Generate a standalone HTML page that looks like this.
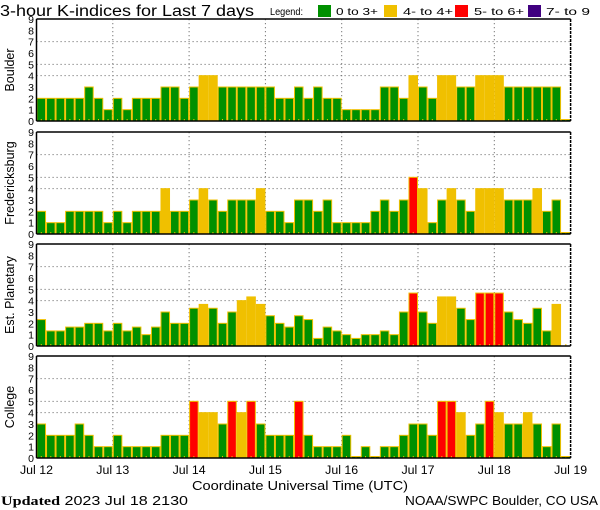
<!DOCTYPE html>
<html><head><meta charset="utf-8"><style>
body{margin:0;background:#fff;}
svg{display:block;font-family:"Liberation Sans",sans-serif;}
</style></head><body>
<svg id="c" width="600" height="510" viewBox="0 0 600 510"></svg>
<script>
const stations = ["Boulder","Fredericksburg","Est. Planetary","College"];
const boulder = [2,2,2,2,2,3,2,1,2,1,2,2,2,3,3,2,3,4,4,3,3,3,3,3,3,2,2,3,2,3,2,2,1,1,1,1,3,3,2,4,3,2,4,4,3,3,4,4,4,3,3,3,3,3,3,0];
const fredericksburg = [2,1,1,2,2,2,2,1,2,1,2,2,2,4,2,2,3,4,3,2,3,3,3,4,2,2,1,3,3,2,3,1,1,1,1,2,3,2,3,5,4,1,3,4,3,2,4,4,4,3,3,3,4,2,3,0];
const planetary = [2.33,1.33,1.33,1.67,1.67,2,2,1.33,2,1.33,1.67,1,1.67,3,2,2,3.33,3.67,3.33,2,3,4,4.33,3.67,2.67,2,1.67,2.67,2.33,0.67,1.67,1.33,1,0.67,1,1,1.33,1,3,4.67,3,2,4.33,4.33,3.33,2.33,4.67,4.67,4.67,3,2.33,2,3.33,1.33,3.67,null];
const college = [3,2,2,2,3,2,1,1,2,1,1,1,1,2,2,2,5,4,4,3,5,4,5,3,2,2,2,5,2,1,1,1,2,0,1,0,1,1,2,3,3,2,5,5,4,2,3,5,4,3,3,4,3,1,3,0];
const series = [boulder,fredericksburg,planetary,college];
const dayLabels = ["Jul 12","Jul 13","Jul 14","Jul 15","Jul 16","Jul 17","Jul 18","Jul 19"];
const yTicks = [0,1,2,3,4,5,6,7,8,9];
const gridLevels = [4,5,7];

const NS="http://www.w3.org/2000/svg";
const svg=document.getElementById('c');
const X0=36.5, DAYW=76.3, BARW=DAYW/8, PH=102, UNIT=PH/9;
const panelTops=[19,132,244,356];
function xs(i){return X0+i*BARW;}
function mk(tag,attrs,parent){const e=document.createElementNS(NS,tag);for(const k in attrs)e.setAttribute(k,attrs[k]);(parent||svg).appendChild(e);return e;}
function color(v){if(v>=6.67)return"#400080";if(v>=4.67)return"#ff0000";if(v>=3.67)return"#f0c000";return"#009000";}

let t=mk('text',{x:0,y:16,'font-size':15.5,fill:'#000',textLength:254,lengthAdjust:'spacingAndGlyphs'});t.textContent="3-hour K-indices for Last 7 days";


t=mk('text',{x:270,y:15,'font-size':10.5,textLength:33,lengthAdjust:'spacingAndGlyphs'});t.textContent="Legend:";


const legend=[["#009000","0 to 3+",318,336,42],["#f0c000","4- to 4+",384,403,50],["#ff0000","5- to 6+",455,474,50],["#400080","7- to 9",528,546,44]];
legend.forEach(l=>{
  const g=mk('g',{});
  
  
  mk('rect',{x:l[2],y:5,width:13,height:12,fill:l[0]},g);
  const tt=mk('text',{x:l[3],y:15,'font-size':10.5,textLength:l[4],lengthAdjust:'spacingAndGlyphs'},g);tt.textContent=l[1];
});

series.forEach((data,p)=>{
  const top=panelTops[p], bot=top+PH;
  const g=mk('g',{});
  
  
  gridLevels.forEach(v=>{const y=bot-v*UNIT;mk('line',{x1:X0,x2:X0+7*DAYW,y1:y,y2:y,stroke:'#777','stroke-dasharray':'1.2,2.8','stroke-width':1},g);});
  for(let d=1;d<7;d++){const x=X0+d*DAYW;mk('line',{x1:x,x2:x,y1:top,y2:bot,stroke:'#777','stroke-dasharray':'1.2,2.8','stroke-width':1},g);}
  data.forEach((v,i)=>{
    if(v===null)return;
    const h=Math.max(v*UNIT,1.5);
    const r=mk('rect',{x:xs(i)+0.5,y:bot-h,width:BARW-1,height:h,fill:color(v),stroke:'#f0c000','stroke-width':1},g);
    
    
  });
  data.forEach((v,i)=>{mk('rect',{x:xs(i)+BARW/2-0.5,y:bot-2,width:1,height:2,fill:'#f0c000'},g);});
  mk('line',{x1:X0,x2:X0+7*DAYW,y1:top,y2:top,stroke:'#000','stroke-width':1.5},g);
  mk('line',{x1:X0,x2:X0+7*DAYW,y1:bot,y2:bot,stroke:'#000','stroke-width':1.5},g);
  mk('line',{x1:X0,x2:X0,y1:top,y2:bot,stroke:'#000','stroke-width':1.5},g);
  mk('line',{x1:X0+7*DAYW,x2:X0+7*DAYW,y1:top,y2:bot,stroke:'#000','stroke-width':1.5,'stroke-dasharray':'3,1'},g);
  yTicks.forEach(v=>{const tt=mk('text',{x:34,y:bot-v*UNIT+4,'font-size':10.5,'text-anchor':'end'},g);tt.textContent=v;});
  const yl=mk('text',{x:0,y:0,'font-size':12.5,'text-anchor':'middle',transform:`translate(14,${top+PH/2}) rotate(-90)`},g);
  yl.textContent=stations[p];
  
  
});

dayLabels.forEach((s,d)=>{
  const tt=mk('text',{x:X0+d*DAYW,y:474,'font-size':11.5,'text-anchor':'middle',textLength:33,lengthAdjust:'spacingAndGlyphs'});tt.textContent=s;
  
  
});
t=mk('text',{x:192,y:490,'font-size':13,textLength:216,lengthAdjust:'spacingAndGlyphs'});t.textContent="Coordinate Universal Time (UTC)";


t=mk('text',{x:1,y:505,'font-size':13,textLength:187,lengthAdjust:'spacingAndGlyphs'});
t.innerHTML='<tspan font-family="Liberation Serif, serif" font-weight="bold">Updated</tspan> 2023 Jul 18 2130';


t=mk('text',{x:405,y:505,'font-size':13,textLength:193,lengthAdjust:'spacingAndGlyphs'});t.textContent="NOAA/SWPC Boulder, CO USA";


</script>
</body></html>
